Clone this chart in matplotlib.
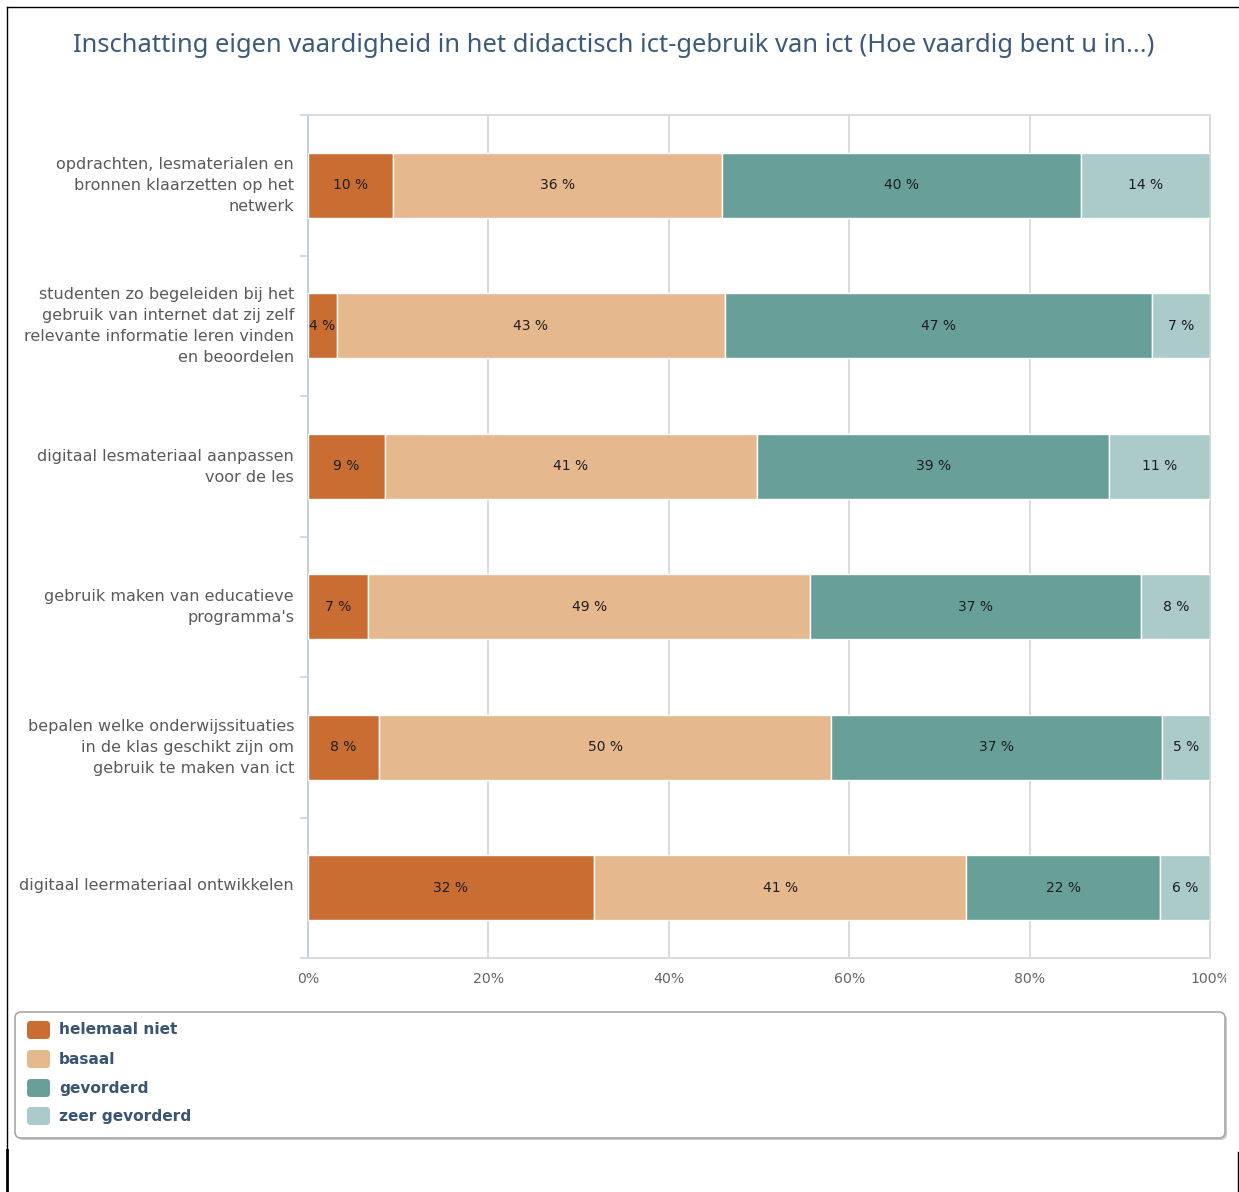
import matplotlib
matplotlib.use("Agg")
import matplotlib.pyplot as plt
import numpy as np
from matplotlib.patches import FancyBboxPatch
from matplotlib.lines import Line2D
from matplotlib.transforms import Bbox

# ---------------- data ----------------
title = "Inschatting eigen vaardigheid in het didactisch ict-gebruik van ict (Hoe vaardig bent u in...)"
categories = [
    "opdrachten, lesmaterialen en\nbronnen klaarzetten op het\nnetwerk",
    "studenten zo begeleiden bij het\ngebruik van internet dat zij zelf\nrelevante informatie leren vinden\nen beoordelen",
    "digitaal lesmateriaal aanpassen\nvoor de les",
    "gebruik maken van educatieve\nprogramma's",
    "bepalen welke onderwijssituaties\nin de klas geschikt zijn om\ngebruik te maken van ict",
    "digitaal leermateriaal ontwikkelen",
]
series_names = ["helemaal niet", "basaal", "gevorderd", "zeer gevorderd"]
series_colors = ["#C96D32", "#E6B88E", "#689F98", "#ABCACA"]

# segment widths (percent)
helemaal_niet = [9.4, 3.2, 8.5, 6.7, 7.9, 31.7]
basaal = [36.5, 43.0, 41.3, 49.0, 50.1, 41.3]
gevorderd = [39.8, 47.4, 39.0, 36.7, 36.7, 21.5]
zeer_gevorderd = [14.3, 6.4, 11.2, 7.6, 5.3, 5.5]

# printed labels (rounded, as shown in the chart)
lbl_helemaal_niet = [10, 4, 9, 7, 8, 32]
lbl_basaal = [36, 43, 41, 49, 50, 41]
lbl_gevorderd = [40, 47, 39, 37, 37, 22]
lbl_zeer_gevorderd = [14, 7, 11, 8, 5, 6]

x_ticks = [0, 20, 40, 60, 80, 100]
x_ticklabels = ["0%", "20%", "40%", "60%", "80%", "100%"]

series_values = [helemaal_niet, basaal, gevorderd, zeer_gevorderd]
series_labels = [lbl_helemaal_niet, lbl_basaal, lbl_gevorderd, lbl_zeer_gevorderd]

# ---------------- figure ----------------
W, H = 1239, 1192
fig = plt.figure(figsize=(W / 100, H / 100), dpi=100)
fig.patch.set_facecolor("white")

def fx(px):
    return px / W

def fy(py):
    return 1 - py / H

ax_l, ax_r, ax_t, ax_b = 308, 1210, 115, 958
ax = fig.add_axes([fx(ax_l), fy(ax_b), fx(ax_r - ax_l), (ax_b - ax_t) / H])

y = np.arange(len(categories))
left = np.zeros(len(categories))
for vals, labs, name, col in zip(series_values, series_labels, series_names, series_colors):
    vals = np.array(vals)
    bars = ax.barh(y, vals, left=left, height=0.463, color=col, edgecolor="white",
                   linewidth=1.0, label=name, zorder=3)
    for b, lab in zip(bars, labs):
        cx = b.get_x() + b.get_width() / 2
        cy = b.get_y() + b.get_height() / 2
        ax.text(cx, cy, f"{lab} %", ha="center", va="center", fontsize=10,
                color="#1e1e1e", family="DejaVu Sans", zorder=4)
    left = left + vals

ax.set_xlim(0, 100)
ax.set_ylim(len(categories) - 0.5, -0.5)

# x axis
ax.set_xticks(x_ticks)
ax.set_xticklabels(x_ticklabels)
ax.tick_params(axis="x", length=0, pad=10, labelsize=10.2, labelcolor="#666666")
ax.grid(axis="x", color="#D8D8D8", linewidth=1.3, zorder=0)
ax.set_axisbelow(True)

# y axis: category boundaries as ticks, names as minor ticks
ax.set_yticks(np.arange(len(categories) + 1) - 0.5)
ax.set_yticklabels([])
ax.tick_params(axis="y", which="major", length=6, width=1.2, color="#C8D4E2")
label_offset = 0.028  # category labels sit slightly above the bar centre
ax.set_yticks(y - label_offset, minor=True)
ax.set_yticklabels(categories, minor=True)
ax.tick_params(axis="y", which="minor", length=0, pad=10, labelsize=11.5,
               labelcolor="#5a5a5a")
for t in ax.get_yticklabels(minor=True):
    t.set_linespacing(1.5)
    t.set_family("DejaVu Sans")

ax.spines["left"].set_color("#C0CFE0")
ax.spines["left"].set_linewidth(1.4)
for s in ["top", "bottom"]:
    ax.spines[s].set_color("#D6DCE4")
    ax.spines[s].set_linewidth(1.4)
ax.spines["right"].set_color("#D8D8D8")
ax.spines["right"].set_linewidth(1.3)

# title
fig.text(fx(614), fy(46), title, ha="center", va="center", fontsize=18.4,
         color="#3D5A7C", family="Noto Sans")

# legend (manual, Highcharts-like box)
lx0, lx1, ly0, ly1 = 15, 1225, 1012, 1138
shadow = FancyBboxPatch((fx(lx0 + 2), fy(ly1 + 2)), fx(lx1 - lx0), (ly1 - ly0) / H,
                        boxstyle="round,pad=0,rounding_size=0.005",
                        transform=fig.transFigure, facecolor="#CCCCCC",
                        edgecolor="none", zorder=1)
box = FancyBboxPatch((fx(lx0), fy(ly1)), fx(lx1 - lx0), (ly1 - ly0) / H,
                     boxstyle="round,pad=0,rounding_size=0.005",
                     transform=fig.transFigure, facecolor="white",
                     edgecolor="#A8A8A8", linewidth=1.2, zorder=2)
fig.add_artist(shadow)
fig.add_artist(box)
item_y = [1030, 1059, 1088, 1116]
for name, col, iy in zip(series_names, series_colors, item_y):
    sw = FancyBboxPatch((fx(27), fy(iy + 9)), fx(23), 18 / H,
                        boxstyle="round,pad=0,rounding_size=0.003",
                        transform=fig.transFigure, facecolor=col,
                        edgecolor="none", zorder=3)
    fig.add_artist(sw)
    fig.text(fx(59), fy(iy), name, ha="left", va="center", fontsize=11.1,
             fontweight="bold", color="#3A5574", family="DejaVu Sans", zorder=4)

# outer black frame lines (screenshot borders)
frame = [
    ((7, 1239), (7, 7), 1.0),
    ((7, 7), (7, 1150), 1.0),
    ((7, 7), (1150, 1192), 2.0),
    ((1238, 1238), (1152, 1192), 1.0),
]
for xs, ys, lw in frame:
    fig.add_artist(Line2D([fx(xs[0]), fx(xs[1])], [fy(ys[0]), fy(ys[1])],
                          transform=fig.transFigure, color="black", linewidth=lw))

# clip the last x tick label like the screenshot
fig.canvas.draw()
last = ax.get_xticklabels()[-1]
last.set_clip_on(True)
last.set_clip_box(Bbox.from_extents(0, 0, 1226, H))

fig.savefig("out.png", dpi=100, facecolor="white")
